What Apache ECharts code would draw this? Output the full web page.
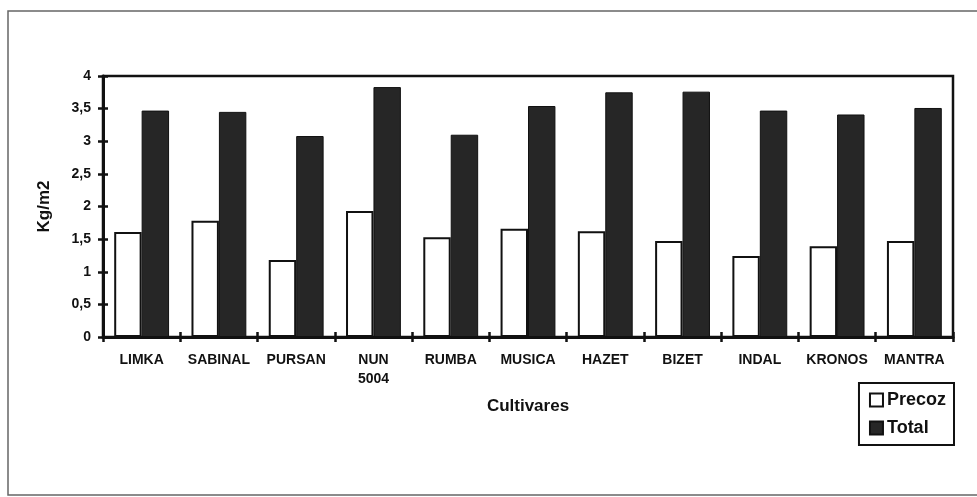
<!DOCTYPE html>
<html>
<head>
<meta charset="utf-8">
<script src="https://cdn.jsdelivr.net/npm/echarts@6/dist/echarts.min.js"></script>
<style>
html,body{margin:0;padding:0;background:#fff;}
#c{width:977px;height:497px;}
</style>
</head>
<body>
<div id="c"></div>
<script>
const categories = ['LIMKA', 'SABINAL', 'PURSAN', 'NUN\n5004', 'RUMBA', 'MUSICA', 'HAZET', 'BIZET', 'INDAL', 'KRONOS', 'MANTRA'];
const precoz = [1.61, 1.78, 1.18, 1.93, 1.53, 1.66, 1.62, 1.47, 1.24, 1.39, 1.47];
const total = [3.47, 3.45, 3.08, 3.83, 3.10, 3.54, 3.75, 3.76, 3.47, 3.41, 3.51];
const yTicks = [0, 0.5, 1, 1.5, 2, 2.5, 3, 3.5, 4];

const chart = echarts.init(document.getElementById('c'));
const fontMain = "'Liberation Sans', Arial, sans-serif";
const fmt = v => String(v).replace('.', ',');

chart.setOption({
  animation: false,
  backgroundColor: '#fff',
  graphic: [{
    type: 'rect', shape: {x: 8, y: 11, width: 990, height: 484},
    style: {fill: 'none', stroke: '#666', lineWidth: 1.5}
  }],
  grid: {left: 103, right: 24, top: 76, bottom: 160, show: true, borderColor: '#111', borderWidth: 2.5, backgroundColor: 'transparent'},
  legend: {
    orient: 'vertical', right: 23, top: 383,
    data: ['Precoz', 'Total'],
    borderColor: '#111', borderWidth: 2, padding: [8, 8, 8, 10],
    itemWidth: 13, itemHeight: 13, itemGap: 10,
    textStyle: {fontFamily: fontMain, fontWeight: 'bold', fontSize: 18, color: '#111', padding: [0, 0, 0, -1]},
    icon: 'rect'
  },
  xAxis: [{
    type: 'category', data: categories,
    name: 'Cultivares', nameLocation: 'middle', nameGap: 61,
    nameTextStyle: {fontFamily: fontMain, fontWeight: 'bold', fontSize: 17, color: '#111'},
    axisLine: {lineStyle: {color: '#111', width: 3}},
    axisTick: {show: true, length: 5, lineStyle: {color: '#111', width: 2.5}},
    axisLabel: {interval: 0, fontFamily: fontMain, fontWeight: 'bold', fontSize: 14, color: '#111', margin: 14, lineHeight: 19, verticalAlign: 'top'},
    splitLine: {show: false}
  }, {
    type: 'category', data: categories, position: 'bottom', gridIndex: 0,
    axisLine: {show: false},
    axisTick: {show: true, inside: true, length: 5, lineStyle: {color: '#111', width: 2.5}},
    axisLabel: {show: false}, splitLine: {show: false}
  }],
  yAxis: [{
    type: 'value', min: yTicks[0], max: yTicks[yTicks.length - 1], interval: 0.5,
    name: 'Kg/m2', nameLocation: 'middle', nameGap: 50, nameRotate: 90,
    nameTextStyle: {fontFamily: fontMain, fontWeight: 'bold', fontSize: 17, color: '#111'},
    axisLine: {show: true, lineStyle: {color: '#111', width: 3}},
    axisTick: {show: true, length: 5, lineStyle: {color: '#111', width: 2.5}},
    axisLabel: {fontFamily: fontMain, fontWeight: 'bold', fontSize: 14, color: '#111', margin: 12, formatter: fmt},
    splitLine: {show: false}
  }, {
    type: 'value', min: yTicks[0], max: yTicks[yTicks.length - 1], interval: 0.5, position: 'left',
    axisLine: {show: false},
    axisTick: {show: true, inside: true, length: 5, lineStyle: {color: '#111', width: 2.5}},
    axisLabel: {show: false}, splitLine: {show: false}
  }],
  series: [{
    name: 'Precoz', type: 'bar', data: precoz,
    barGap: '0%', barCategoryGap: '29%',
    itemStyle: {color: '#fff', borderColor: '#111', borderWidth: 2}
  }, {
    name: 'Total', type: 'bar', data: total,
    itemStyle: {color: '#262626', borderColor: '#111', borderWidth: 1}
  }]
});
</script>
</body>
</html>
